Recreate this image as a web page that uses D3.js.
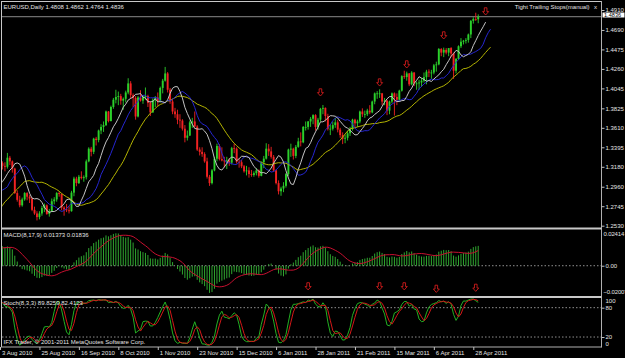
<!DOCTYPE html>
<meta charset="utf-8">
<style>
body { margin: 0; background: #000; }
svg { display: block; }
text { font: 6px "Liberation Sans", Arial, sans-serif; fill: #e4e4e4; }
</style>
<svg id="chart"></svg>
<script src="https://cdn.jsdelivr.net/npm/d3@7"></script>
<script>

// EURUSD daily, 7 Jun 2010 .. 2 May 2011 (bars before 3 Aug only feed the indicators)
var firstDay = "2010-06-07",
    firstShown = "2010-08-03";

var open = [
  1.1970,1.1925,1.1985,1.1995,1.2105,1.2110,1.2220,1.2310,1.2290,1.2380,1.2385,1.2340,1.2285,1.2310,1.2300,1.2380,1.2270,1.2200, // jun
  1.2230,1.2510,1.2565,1.2570,1.2640,1.2610,1.2690,1.2640,1.2610,1.2730,1.2750,1.2940,1.2950,1.2940,1.2890,1.2780,1.2910,1.2900,1.3000,1.2980,1.2990,1.3060, // jul
  1.3050,1.3200,1.3220,1.3190,1.3180,1.3280,1.3240,1.3160,1.2890,1.2815,1.2755,1.2820,1.2890,1.2850,1.2830,1.2705,1.2665,1.2625,1.2665,1.2725,1.2755,1.2660, // aug
  1.2690,1.2800,1.2820,1.2890,1.2880,1.2730,1.2710,1.2700,1.2690,1.2895,1.3050,1.3000,1.3070,1.3055,1.3065,1.3240,1.3380,1.3345,1.3490,1.3475,1.3580,1.3620, // sep
  1.3640,1.3790,1.3685,1.3840,1.3920,1.3950,1.3960,1.3910,1.3930,1.4000,1.4100,1.3970,1.3940,1.3735,1.3945,1.3910,1.3950,1.3960,1.3885,1.3780,1.3920, // oct
  1.3945,1.3900,1.4050,1.4130,1.4210,1.4030,1.3900,1.3790,1.3760,1.3700,1.3690,1.3600,1.3500,1.3525,1.3670,1.3680,1.3625,1.3370,1.3345,1.3320,1.3240,1.3070, // nov
  1.3000,1.3140,1.3270,1.3410,1.3265,1.3250,1.3240,1.3250,1.3225,1.3385,1.3380,1.3235,1.3230,1.3185,1.3130,1.3140,1.3100,1.3090,1.3110,1.3140,1.3080,1.3230,1.3270, // dec
  1.3380,1.3350,1.3290,1.3140,1.3000,1.2910,1.2940,1.2970,1.3100,1.3370,1.3380,1.3300,1.3400,1.3460,1.3450,1.3620,1.3620,1.3680,1.3710,1.3750,1.3620, // jan
  1.3700,1.3820,1.3830,1.3740,1.3600,1.3600,1.3640,1.3670,1.3590,1.3530,1.3490,1.3500,1.3550,1.3600,1.3700,1.3660,1.3680,1.3790,1.3760,1.3760, // feb
  1.3800,1.3780,1.3900,1.3990,1.3990,1.3990,1.3900,1.3910,1.3800,1.3900,1.3990,1.3950,1.3920,1.4020,1.4180,1.4170,1.4210,1.4090,1.4220,1.4100,1.4100,1.4110,1.4130, // mar
  1.4170,1.4230,1.4220,1.4220,1.4300,1.4310,1.4480,1.4440,1.4470,1.4440,1.4490,1.4430,1.4240,1.4370,1.4510,1.4560,1.4570,1.4580,1.4640,1.4790,1.4810, // apr
  1.4808 // may
];
var high = [
  1.1990,1.2005,1.2040,1.2115,1.2155,1.2330,1.2335,1.2350,1.2385,1.2420,1.2470,1.2380,1.2335,1.2355,1.2390,1.2400,1.2290,1.2275,
  1.2520,1.2595,1.2600,1.2670,1.2665,1.2720,1.2695,1.2650,1.2735,1.2775,1.2950,1.2990,1.2975,1.2960,1.2930,1.2935,1.2975,1.3010,1.3030,1.3035,1.3110,1.3080,
  1.3210,1.3260,1.3240,1.3230,1.3333,1.3300,1.3250,1.3170,1.2920,1.2860,1.2840,1.2900,1.2900,1.2870,1.2840,1.2740,1.2690,1.2690,1.2750,1.2775,1.2765,1.2715,
  1.2830,1.2845,1.2900,1.2905,1.2885,1.2745,1.2770,1.2745,1.2915,1.3070,1.3070,1.3090,1.3130,1.3085,1.3260,1.3395,1.3400,1.3500,1.3510,1.3590,1.3650,1.3680,
  1.3800,1.3795,1.3855,1.3940,1.4030,1.4010,1.3985,1.3945,1.4020,1.4157,1.4125,1.3990,1.3960,1.3960,1.4025,1.3970,1.4055,1.3975,1.3905,1.3935,1.3960,
  1.4000,1.4065,1.4150,1.4282,1.4225,1.4050,1.3930,1.3830,1.3810,1.3760,1.3705,1.3640,1.3580,1.3690,1.3720,1.3790,1.3640,1.3395,1.3395,1.3340,1.3280,1.3090,
  1.3155,1.3290,1.3435,1.3430,1.3395,1.3290,1.3290,1.3275,1.3400,1.3435,1.3395,1.3270,1.3255,1.3200,1.3190,1.3175,1.3145,1.3130,1.3165,1.3150,1.3240,1.3300,1.3440,
  1.3430,1.3400,1.3310,1.3150,1.3030,1.2960,1.3010,1.3110,1.3380,1.3435,1.3390,1.3420,1.3500,1.3560,1.3630,1.3680,1.3685,1.3730,1.3760,1.3760,1.3720,
  1.3830,1.3862,1.3835,1.3765,1.3650,1.3680,1.3720,1.3695,1.3610,1.3560,1.3535,1.3580,1.3620,1.3710,1.3710,1.3700,1.3800,1.3825,1.3800,1.3820,
  1.3860,1.3910,1.4000,1.4015,1.4035,1.3995,1.3940,1.3920,1.3910,1.4000,1.4000,1.3990,1.4030,1.4190,1.4240,1.4230,1.4215,1.4235,1.4225,1.4120,1.4140,1.4160,1.4220,
  1.4250,1.4255,1.4250,1.4315,1.4340,1.4490,1.4490,1.4495,1.4490,1.4490,1.4500,1.4440,1.4380,1.4520,1.4600,1.4580,1.4600,1.4650,1.4800,1.4830,1.4880,
  1.4862
];
var low = [
  1.1876,1.1880,1.1945,1.1975,1.2030,1.2105,1.2180,1.2240,1.2260,1.2320,1.2315,1.2255,1.2210,1.2250,1.2255,1.2260,1.2150,1.2155,
  1.2210,1.2480,1.2505,1.2525,1.2575,1.2590,1.2595,1.2530,1.2585,1.2650,1.2720,1.2865,1.2880,1.2840,1.2740,1.2760,1.2850,1.2875,1.2930,1.2940,1.2975,1.2990,
  1.3040,1.3155,1.3150,1.3130,1.3160,1.3200,1.3115,1.2880,1.2795,1.2733,1.2740,1.2805,1.2810,1.2780,1.2690,1.2650,1.2588,1.2600,1.2640,1.2680,1.2650,1.2630,
  1.2680,1.2765,1.2795,1.2850,1.2700,1.2640,1.2680,1.2665,1.2685,1.2855,1.2965,1.2990,1.3040,1.3015,1.3040,1.3230,1.3295,1.3320,1.3415,1.3450,1.3540,1.3565,
  1.3630,1.3670,1.3680,1.3820,1.3880,1.3860,1.3865,1.3810,1.3890,1.3980,1.3935,1.3840,1.3700,1.3725,1.3900,1.3875,1.3920,1.3840,1.3740,1.3775,1.3840,
  1.3850,1.3890,1.3990,1.4120,1.4000,1.3875,1.3760,1.3720,1.3650,1.3610,1.3580,1.3450,1.3470,1.3520,1.3610,1.3615,1.3355,1.3305,1.3290,1.3225,1.3050,1.2969,
  1.2985,1.3130,1.3240,1.3250,1.3240,1.3175,1.3155,1.3190,1.3205,1.3330,1.3215,1.3170,1.3165,1.3115,1.3085,1.3060,1.3070,1.3070,1.3085,1.3060,1.3075,1.3165,1.3260,
  1.3300,1.3270,1.3125,1.2985,1.2875,1.2860,1.2900,1.2950,1.3080,1.3290,1.3260,1.3275,1.3390,1.3405,1.3440,1.3580,1.3590,1.3620,1.3650,1.3580,1.3590,
  1.3680,1.3760,1.3680,1.3580,1.3530,1.3580,1.3610,1.3560,1.3500,1.3430,1.3440,1.3470,1.3520,1.3580,1.3620,1.3620,1.3660,1.3730,1.3720,1.3740,
  1.3760,1.3770,1.3870,1.3930,1.3940,1.3860,1.3860,1.3750,1.3760,1.3880,1.3745,1.3860,1.3900,1.4010,1.4150,1.4130,1.4070,1.4080,1.4070,1.4030,1.4030,1.4060,1.4110,
  1.4090,1.4170,1.4150,1.4200,1.4230,1.4300,1.4400,1.4390,1.4420,1.4400,1.4390,1.4150,1.4210,1.4360,1.4490,1.4530,1.4540,1.4550,1.4600,1.4760,1.4790,
  1.4764
];
var close = [
  1.1925,1.1985,1.1995,1.2105,1.2110,1.2220,1.2310,1.2290,1.2380,1.2385,1.2340,1.2285,1.2310,1.2300,1.2380,1.2270,1.2200,1.2230,
  1.2510,1.2565,1.2570,1.2640,1.2610,1.2690,1.2640,1.2610,1.2730,1.2750,1.2940,1.2950,1.2940,1.2890,1.2780,1.2910,1.2900,1.3000,1.2980,1.2990,1.3060,1.3050,
  1.3200,1.3220,1.3190,1.3180,1.3280,1.3240,1.3160,1.2890,1.2815,1.2755,1.2820,1.2890,1.2850,1.2830,1.2705,1.2665,1.2625,1.2665,1.2725,1.2755,1.2660,1.2690,
  1.2800,1.2820,1.2890,1.2880,1.2730,1.2710,1.2700,1.2690,1.2895,1.3050,1.3000,1.3070,1.3055,1.3065,1.3240,1.3380,1.3345,1.3490,1.3475,1.3580,1.3620,1.3640,
  1.3790,1.3685,1.3840,1.3920,1.3950,1.3960,1.3910,1.3930,1.4000,1.4100,1.3970,1.3940,1.3735,1.3945,1.3910,1.3950,1.3960,1.3885,1.3780,1.3920,1.3945,
  1.3900,1.4050,1.4130,1.4210,1.4030,1.3900,1.3790,1.3760,1.3700,1.3690,1.3600,1.3500,1.3525,1.3670,1.3680,1.3625,1.3370,1.3345,1.3320,1.3240,1.3070,1.3000,
  1.3140,1.3270,1.3410,1.3265,1.3250,1.3240,1.3250,1.3225,1.3385,1.3380,1.3235,1.3230,1.3185,1.3130,1.3140,1.3100,1.3090,1.3110,1.3140,1.3080,1.3230,1.3270,1.3380,
  1.3350,1.3290,1.3140,1.3000,1.2910,1.2940,1.2970,1.3100,1.3370,1.3380,1.3300,1.3400,1.3460,1.3450,1.3620,1.3620,1.3680,1.3710,1.3750,1.3620,1.3700,
  1.3820,1.3830,1.3740,1.3600,1.3600,1.3640,1.3670,1.3590,1.3530,1.3490,1.3500,1.3550,1.3600,1.3700,1.3660,1.3680,1.3790,1.3760,1.3760,1.3800,
  1.3780,1.3900,1.3990,1.3990,1.3990,1.3900,1.3910,1.3800,1.3900,1.3990,1.3950,1.3920,1.4020,1.4180,1.4170,1.4210,1.4090,1.4220,1.4100,1.4100,1.4110,1.4130,1.4170,
  1.4230,1.4220,1.4220,1.4300,1.4310,1.4480,1.4440,1.4470,1.4440,1.4490,1.4430,1.4240,1.4370,1.4510,1.4560,1.4570,1.4580,1.4640,1.4790,1.4810,1.4805,
  1.4836
];

var priceTicks = [1.4910, 1.4690, 1.4475, 1.4260, 1.4045, 1.3825, 1.3610, 1.3395, 1.3180, 1.2960, 1.2745, 1.2530];
var bidPrice = 1.4836;
var macdTicks = [0.02414, 0.00, -0.02007];
var stochTicks = [100, 80, 20, 0];
var stochLevels = [80, 20];
var dateStep = 16;

// "Tight Trailing Stops" arrows (dates and the level of the arrow tip)
var stopDates = ["2011-02-01", "2011-03-07", "2011-03-22", "2011-04-12", "2011-05-05"];
var stopPrices = [1.3961, 1.4071, 1.4270, 1.4590, 1.4855];
var macdArrowDates = ["2011-01-25", "2011-03-07", "2011-03-21", "2011-04-07", "2011-04-29"];
var macdArrowValues = [-0.0166, -0.0166, -0.0166, -0.0183, -0.0176];

var titleText = "EURUSD,Daily  1.4808 1.4862 1.4764 1.4836",
    macdText = "MACD(8,17,9) 0.01373 0.01836",
    stochText = "Stoch(8,3,3) 89.8259 82.4123",
    copyText = "IFX Trader, \u00a9 2001-2011 MetaQuotes Software Corp.",
    objText = "Tight Trailing Stops(manual)";

var width = 625, height = 358;
var right = 601.5;
var mainTop = 2, mainBottom = 227.5,
    macdTop = 229.5, macdBottom = 296,
    stochTop = 298, stochBottom = 347;

var upColor = "#2bd02b", downColor = "#f22222";

var svg = d3.select("#chart")
    .attr("width", width)
    .attr("height", height);

svg.append("rect").attr("width", width).attr("height", height).attr("fill", "#000");

// trading days (weekdays only)
var days = d3.utcDay.range(new Date(firstDay + "T00:00Z"), new Date("2011-07-30T00:00Z"))
    .filter(function(d) { return d.getUTCDay() % 6 !== 0; });
var key = d3.utcFormat("%Y-%m-%d");
var dayIndex = new Map(days.map(function(d, i) { return [key(d), i]; }));
var off = dayIndex.get(firstShown);
var n = close.length;

var x = d3.scaleLinear().domain([off, off + 192]).range([0, 473.3]);
var y = d3.scaleLinear().domain([1.2530, 1.4910]).range([225.7, 10]);
var yM = d3.scaleLinear().domain([-0.02007, 0.02414]).range([295, 230.5]);
var yS = d3.scaleLinear().domain([0, 100]).range([346.8, 297.9]);

var defs = svg.append("defs");
function clip(id, y0, y1) {
  defs.append("clipPath").attr("id", id).append("rect")
      .attr("x", 2).attr("y", y0).attr("width", right - 2).attr("height", y1 - y0);
}
clip("cMain", mainTop, mainBottom);
clip("cMacd", macdTop, macdBottom);
clip("cStoch", stochTop, stochBottom);

// ---------- indicators ----------
function sma(a, p) {
  return a.map(function(v, i) {
    if (i < p - 1) return null;
    var w = a.slice(i - p + 1, i + 1);
    if (w.some(function(d) { return d == null; })) return null;
    return d3.mean(w);
  });
}
function ema(a, p) {
  var k = 2 / (p + 1), out = [];
  a.forEach(function(v, i) { out.push(i ? v * k + out[i - 1] * (1 - k) : v); });
  return out;
}

var e8 = ema(close, 8), e17 = ema(close, 17);
var macd = close.map(function(v, i) { return e8[i] - e17[i]; });
var signal = sma(macd, 9);

var kPer = 8, slowing = 3;
var ll = close.map(function(v, i) { return i < kPer - 1 ? null : d3.min(low.slice(i - kPer + 1, i + 1)); });
var hh = close.map(function(v, i) { return i < kPer - 1 ? null : d3.max(high.slice(i - kPer + 1, i + 1)); });
var stK = close.map(function(v, i) {
  if (i < kPer + slowing - 2) return null;
  var num = 0, den = 0;
  for (var j = i - slowing + 1; j <= i; j++) { num += close[j] - ll[j]; den += hh[j] - ll[j]; }
  return den ? 100 * num / den : 100;
});
var stD = sma(stK, 3);

// ---------- main panel ----------
var bars = d3.range(n).map(function(i) {
  return {i: i, o: open[i], h: high[i], l: low[i], c: close[i]};
});

var main = svg.append("g").attr("clip-path", "url(#cMain)");

// bid line
main.append("line")
    .attr("x1", 2).attr("x2", right)
    .attr("y1", y(bidPrice)).attr("y2", y(bidPrice))
    .attr("stroke", "#8a8a8a").attr("stroke-width", 1);

main.selectAll(".wick")
    .data(bars)
  .enter().append("line")
    .attr("x1", function(d) { return x(d.i); })
    .attr("x2", function(d) { return x(d.i); })
    .attr("y1", function(d) { return y(d.h); })
    .attr("y2", function(d) { return y(d.l); })
    .attr("stroke", function(d) { return d.c >= d.o ? upColor : downColor; })
    .attr("stroke-width", 0.9);

main.selectAll(".body")
    .data(bars)
  .enter().append("rect")
    .attr("x", function(d) { return x(d.i) - 0.95; })
    .attr("width", 1.9)
    .attr("y", function(d) { return y(Math.max(d.o, d.c)); })
    .attr("height", function(d) { return Math.max(0.8, Math.abs(y(d.o) - y(d.c))); })
    .attr("fill", function(d) { return d.c >= d.o ? upColor : downColor; });

var maSpecs = [
  {period: 21, shift: 5, color: "#b3b300"},
  {period: 8, shift: 5, color: "#2626d0"},
  {period: 5, shift: 3, color: "#c4c4c4"}
];
maSpecs.forEach(function(s) {
  var vals = sma(close, s.period);
  var line = d3.line()
      .defined(function(d, i) { return vals[i] != null; })
      .x(function(d, i) { return x(i + s.shift); })
      .y(function(d, i) { return y(vals[i]); });
  main.append("path")
      .attr("d", line(vals))
      .attr("fill", "none")
      .attr("stroke", s.color)
      .attr("stroke-width", 1);
});

var arrowPath = "M0,0L-3,-3.4L-1.3,-3.4L-1.3,-7.2L1.3,-7.2L1.3,-3.4L3,-3.4Z";
main.selectAll(".stop")
    .data(stopDates)
  .enter().append("path")
    .attr("d", arrowPath)
    .attr("transform", function(d, i) { return "translate(" + x(dayIndex.get(d)) + "," + y(stopPrices[i]) + ")"; })
    .attr("fill", "none")
    .attr("stroke", "#d01c1c")
    .attr("stroke-width", 0.9);

// ---------- MACD panel ----------
var mg = svg.append("g").attr("clip-path", "url(#cMacd)");
mg.append("line")
    .attr("x1", 2).attr("x2", right)
    .attr("y1", yM(0)).attr("y2", yM(0))
    .attr("stroke", "#909090").attr("stroke-dasharray", "1.5,2");

mg.selectAll(".hist")
    .data(macd)
  .enter().append("line")
    .attr("x1", function(d, i) { return x(i); })
    .attr("x2", function(d, i) { return x(i); })
    .attr("y1", yM(0))
    .attr("y2", function(d) { return yM(d); })
    .attr("stroke", "#2fa62f")
    .attr("stroke-width", 1);

mg.append("path")
    .attr("d", d3.line()
        .defined(function(d) { return d != null; })
        .x(function(d, i) { return x(i); })
        .y(function(d) { return yM(d); })(signal))
    .attr("fill", "none")
    .attr("stroke", "#c81030")
    .attr("stroke-width", 1);

mg.selectAll(".marr")
    .data(macdArrowDates)
  .enter().append("path")
    .attr("d", arrowPath)
    .attr("transform", function(d, i) { return "translate(" + x(dayIndex.get(d)) + "," + yM(macdArrowValues[i]) + ")"; })
    .attr("fill", "none")
    .attr("stroke", "#d01c1c")
    .attr("stroke-width", 0.9);

// ---------- Stochastic panel ----------
var sg = svg.append("g").attr("clip-path", "url(#cStoch)");
sg.selectAll(".lvl")
    .data(stochLevels)
  .enter().append("line")
    .attr("x1", 2).attr("x2", right)
    .attr("y1", function(d) { return yS(d); })
    .attr("y2", function(d) { return yS(d); })
    .attr("stroke", "#909090").attr("stroke-dasharray", "1.5,2");

[[stK, "#23b023"], [stD, "#d41818"]].forEach(function(s) {
  sg.append("path")
      .attr("d", d3.line()
          .defined(function(d) { return d != null; })
          .x(function(d, i) { return x(i); })
          .y(function(d) { return yS(d); })(s[0]))
      .attr("fill", "none")
      .attr("stroke", s[1])
      .attr("stroke-width", 1);
});

// ---------- frame ----------
var frame = svg.append("g").attr("stroke", "#c8c8c8").attr("fill", "none");
frame.append("line").attr("x1", 1.5).attr("x2", 1.5).attr("y1", 1).attr("y2", stochBottom);
frame.append("line").attr("x1", 1).attr("x2", right).attr("y1", 1.5).attr("y2", 1.5);
frame.append("line").attr("x1", right).attr("x2", right).attr("y1", 1).attr("y2", stochBottom + 0.5).attr("stroke", "#b0b0b0");
frame.append("line").attr("x1", 1).attr("x2", right).attr("y1", stochBottom).attr("y2", stochBottom).attr("stroke", "#b0b0b0");
frame.append("line").attr("x1", 1).attr("x2", right).attr("y1", 228.5).attr("y2", 228.5).attr("stroke-width", 2);
frame.append("line").attr("x1", 1).attr("x2", right).attr("y1", 297).attr("y2", 297).attr("stroke-width", 2);

// ---------- axes ----------
function styleAxis(g) {
  g.select(".domain").remove();
  g.selectAll(".tick line").attr("stroke", "#c0c0c0");
}

svg.append("g")
    .attr("transform", "translate(" + right + ",0)")
    .call(d3.axisRight(y).tickValues(priceTicks).tickFormat(d3.format(".4f")).tickSize(3).tickPadding(1))
    .call(styleAxis);

var macdAxis = svg.append("g")
    .attr("transform", "translate(" + right + ",0)")
    .call(d3.axisRight(yM).tickValues(macdTicks)
        .tickFormat(function(d) { return d === 0 ? "0.00" : d3.format(".5f")(d); })
        .tickSize(3).tickPadding(1))
    .call(styleAxis);
macdAxis.selectAll(".tick").filter(function(d) { return d !== 0; }).select("line").remove();
macdAxis.selectAll(".tick text")
    .attr("x", function(d) { return d === 0 ? 4 : 2; })
    .style("letter-spacing", function(d) { return d === 0 ? null : "-0.15px"; })
    .attr("dy", function(d) { return d === macdTicks[0] ? "0.9em" : d === macdTicks[2] ? "-0.18em" : "0.32em"; });

var stochAxis = svg.append("g")
    .attr("transform", "translate(" + right + ",0)")
    .call(d3.axisRight(yS).tickValues(stochTicks).tickSize(3).tickPadding(1))
    .call(styleAxis);
stochAxis.selectAll(".tick").filter(function(d) { return d === 100 || d === 0; }).select("line").remove();
stochAxis.selectAll(".tick text")
    .attr("dy", function(d) { return d === 100 ? "0.84em" : d === 0 ? "-0.3em" : "0.32em"; });

var dateTicks = d3.range(off, n, dateStep);
var timeAxis = svg.append("g")
    .attr("transform", "translate(0," + stochBottom + ")")
    .call(d3.axisBottom(x).tickValues(dateTicks)
        .tickFormat(function(k) { return d3.utcFormat("%-d %b %Y")(days[k]); })
        .tickSize(3).tickPadding(1))
    .call(styleAxis);
timeAxis.selectAll(".tick text").attr("text-anchor", "start").attr("dx", 1.5);

// bid price box
var by = y(bidPrice);
svg.append("rect")
    .attr("x", 602.5).attr("y", by - 4.2).attr("width", 22).attr("height", 5)
    .attr("fill", "#fff");
svg.append("text")
    .attr("x", 604).attr("y", by + 0.1)
    .style("font-size", "5.6px")
    .style("fill", "#000")
    .text(d3.format(".4f")(bidPrice));

// ---------- labels ----------
svg.append("text").attr("x", 3.5).attr("y", 8.8).text(titleText);
svg.append("text").attr("x", 589.5).attr("y", 8.8).attr("text-anchor", "end").text(objText);
svg.append("text").attr("x", 594).attr("y", 8.8).text("x");
svg.append("text").attr("x", 3.5).attr("y", 237).text(macdText);
svg.append("text").attr("x", 3.5).attr("y", 304.8).text(stochText);
svg.append("text").attr("x", 3.5).attr("y", 343.8).text(copyText);

</script>
